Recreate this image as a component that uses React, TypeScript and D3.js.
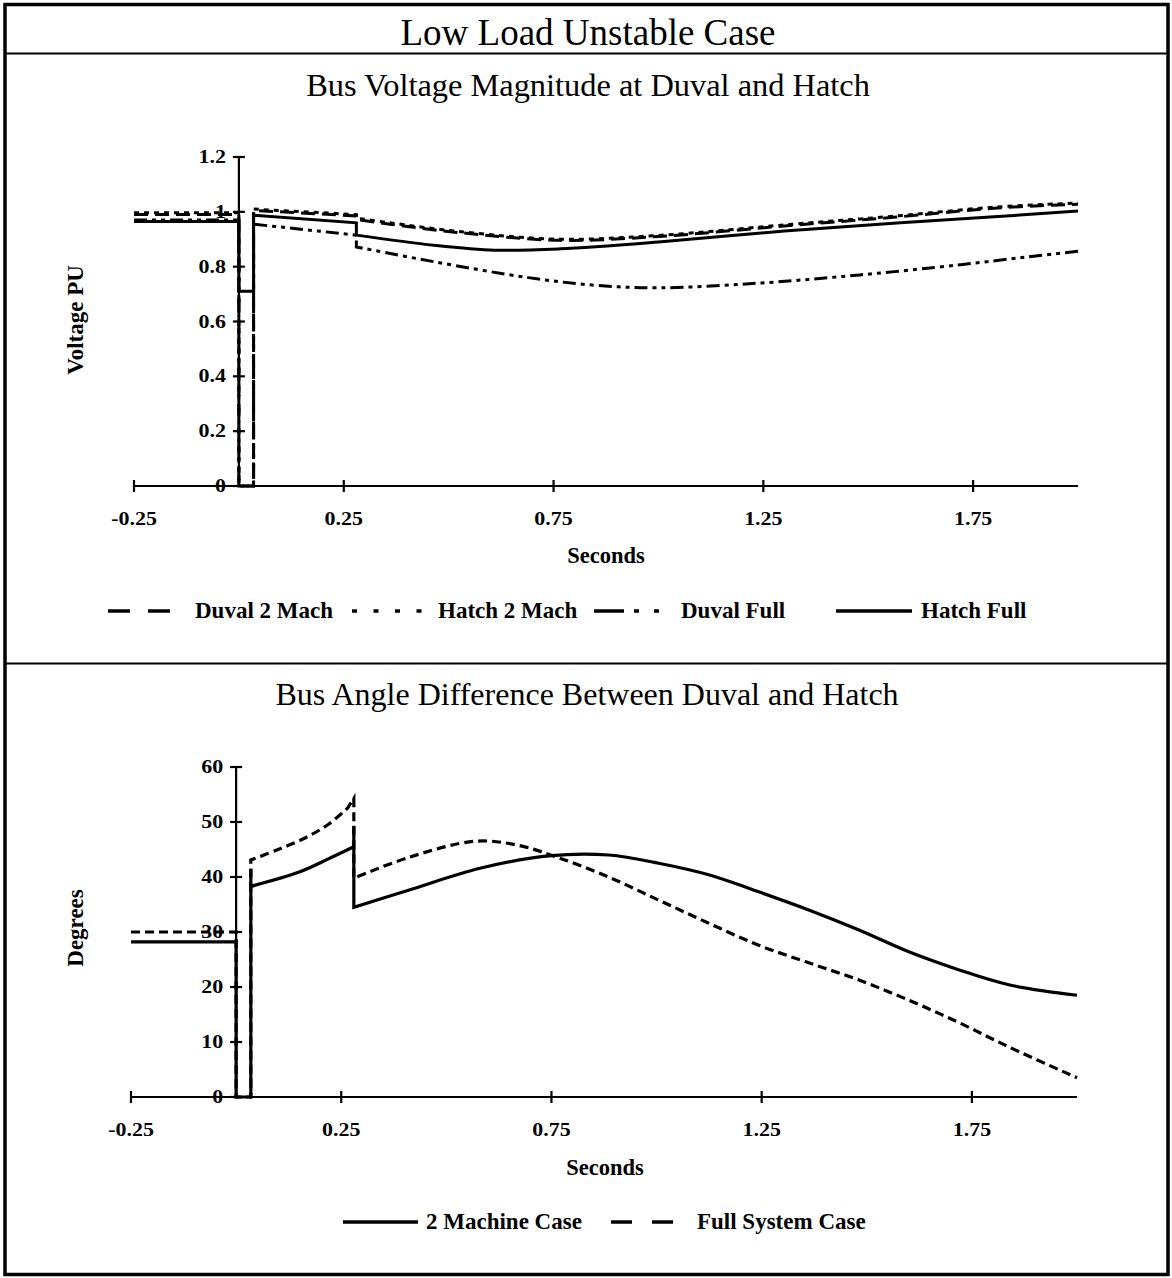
import React from 'react';
import * as d3 from 'd3';

type P = [number, number];
type Seg = { smooth: boolean; pts: P[] };

// ---------- Top panel: Bus Voltage Magnitude (PU) ----------
const duval2Mach: Seg[] = [
  { smooth: false, pts: [[-0.25, 0.99], [0, 0.99], [0, 0], [0.035, 0], [0.035, 1.005], [0.28, 0.985], [0.28, 0.972]] },
  { smooth: true, pts: [[0.28, 0.972], [0.36, 0.955], [0.52, 0.925], [0.765, 0.896], [1.0, 0.91], [1.32, 0.951], [1.56, 0.98], [1.8, 1.013], [2.0, 1.028]] },
];
const hatch2Mach: Seg[] = [
  { smooth: false, pts: [[-0.25, 0.997], [0, 0.997], [0, 0], [0.035, 0], [0.035, 1.01], [0.28, 0.99], [0.28, 0.977]] },
  { smooth: true, pts: [[0.28, 0.977], [0.36, 0.96], [0.52, 0.929], [0.765, 0.9], [1.0, 0.914], [1.32, 0.955], [1.56, 0.984], [1.8, 1.017], [2.0, 1.032]] },
];
const duvalFull: Seg[] = [
  { smooth: false, pts: [[-0.25, 0.97], [0, 0.97], [0, 0], [0.035, 0], [0.035, 0.955], [0.28, 0.915], [0.28, 0.872]] },
  { smooth: true, pts: [[0.28, 0.872], [0.465, 0.818], [0.69, 0.76], [0.85, 0.732], [1.0, 0.723], [1.24, 0.74], [1.48, 0.77], [1.72, 0.807], [1.88, 0.836], [2.0, 0.856]] },
];
const hatchFull: Seg[] = [
  { smooth: false, pts: [[-0.25, 0.965], [0, 0.965], [0, 0.71], [0.035, 0.71], [0.035, 0.988], [0.28, 0.96], [0.28, 0.915]] },
  { smooth: true, pts: [[0.28, 0.915], [0.465, 0.878], [0.61, 0.86], [0.765, 0.865], [1.0, 0.89], [1.3, 0.93], [1.56, 0.958], [1.8, 0.982], [2.0, 1.003]] },
];

// ---------- Bottom panel: Bus Angle Difference (degrees) ----------
const twoMachine: Seg[] = [
  { smooth: false, pts: [[-0.25, 28.2], [0, 28.2], [0, 0], [0.035, 0], [0.035, 41.5], [0.035, 38.3]] },
  { smooth: true, pts: [[0.035, 38.3], [0.15, 40.9], [0.225, 43.5], [0.28, 45.5]] },
  { smooth: false, pts: [[0.28, 45.5], [0.28, 49.3], [0.28, 34.5]] },
  { smooth: true, pts: [[0.28, 34.5], [0.41, 37.6], [0.58, 41.6], [0.75, 43.9], [0.886, 44.0], [1.005, 42.5], [1.124, 40.4], [1.243, 37.3], [1.362, 34.0], [1.48, 30.4], [1.6, 26.4], [1.72, 23.1], [1.838, 20.4], [2.0, 18.5]] },
];
const fullSystem: Seg[] = [
  { smooth: false, pts: [[-0.25, 30], [0, 30], [0, 0], [0.035, 0], [0.035, 43.1]] },
  { smooth: true, pts: [[0.035, 43.1], [0.1, 45.0], [0.164, 47.1], [0.22, 49.6], [0.265, 52.5]] },
  { smooth: false, pts: [[0.265, 52.5], [0.28, 54.3], [0.28, 39.8]] },
  { smooth: true, pts: [[0.28, 39.8], [0.412, 43.6], [0.569, 46.5], [0.669, 45.8], [0.767, 43.5], [0.886, 40.0], [1.005, 35.8], [1.124, 31.6], [1.243, 27.6], [1.362, 24.4], [1.48, 21.3], [1.6, 17.6], [1.72, 13.5], [1.838, 9.1], [2.0, 3.5]] },
];

const xTicks = [-0.25, 0.25, 0.75, 1.25, 1.75];
const xTickLabels = ['-0.25', '0.25', '0.75', '1.25', '1.75'];
const vTicks = [0, 0.2, 0.4, 0.6, 0.8, 1.0, 1.2];
const vTickLabels = ['0', '0.2', '0.4', '0.6', '0.8', '1', '1.2'];
const aTicks = [0, 10, 20, 30, 40, 50, 60];
const aTickLabels = ['0', '10', '20', '30', '40', '50', '60'];

const topLegend = ['Duval 2 Mach', 'Hatch 2 Mach', 'Duval Full', 'Hatch Full'];
const bottomLegend = ['2 Machine Case', 'Full System Case'];

const SERIF = '"Liberation Serif", "Times New Roman", serif';

function buildPath(segs: Seg[], x: (v: number) => number, y: (v: number) => number): string {
  let d = '';
  segs.forEach((s, i) => {
    const gen = d3
      .line<P>()
      .x((p) => x(p[0]))
      .y((p) => y(p[1]))
      .curve(s.smooth ? d3.curveCatmullRom.alpha(0.5) : d3.curveLinear);
    let part = gen(s.pts) || '';
    if (i > 0) part = 'L' + part.slice(1);
    d += part;
  });
  return d;
}

function TickText(props: { x: number; y: number; anchor: string; children: React.ReactNode }) {
  return (
    <text
      transform={`translate(${props.x},${props.y}) scale(1.22,1)`}
      textAnchor={props.anchor}
      fontFamily={SERIF}
      fontWeight="bold"
      fontSize={18}
    >
      {props.children}
    </text>
  );
}

function Axes(props: {
  x: d3.ScaleLinear<number, number>;
  y: d3.ScaleLinear<number, number>;
  yTicks: number[];
  yLabels: string[];
  x0: number;
}) {
  const { x, y, yTicks, yLabels, x0 } = props;
  const [xa, xb] = x.range();
  const y0 = y(0);
  const axX = x(x0);
  const [yBot, yTop] = y.range();
  return (
    <g>
      <line x1={xa} x2={xb} y1={y0} y2={y0} stroke="#000" strokeWidth={2.2} />
      {xTicks.map((t, i) => (
        <g key={'xt' + i}>
          <line x1={x(t)} x2={x(t)} y1={y0 - 6} y2={y0 + 6} stroke="#000" strokeWidth={2.2} />
          <TickText x={x(t)} y={y0 + 39} anchor="middle">
            {xTickLabels[i]}
          </TickText>
        </g>
      ))}
      <line x1={axX} x2={axX} y1={yBot} y2={yTop} stroke="#000" strokeWidth={2.2} />
      {yTicks.map((t, i) => (
        <g key={'yt' + i}>
          <line x1={axX - 6} x2={axX + 6} y1={y(t)} y2={y(t)} stroke="#000" strokeWidth={2.2} />
          <TickText x={axX - 13} y={y(t) + 6} anchor="end">
            {yLabels[i]}
          </TickText>
        </g>
      ))}
    </g>
  );
}

export default function App() {
  const W = 1172;
  const H = 1278;

  const xTop = d3.scaleLinear().domain([-0.25, 2.0]).range([134, 1078]);
  const yTop = d3.scaleLinear().domain([0, 1.2]).range([486, 157]);
  const xBot = d3.scaleLinear().domain([-0.25, 2.0]).range([131, 1077]);
  const yBot = d3.scaleLinear().domain([0, 60]).range([1097, 767]);

  const topSeries = [
    { segs: duval2Mach, dash: '14,7' },
    { segs: hatch2Mach, dash: '5,5' },
    { segs: duvalFull, dash: '13,5,4,5,4,5' },
    { segs: hatchFull, dash: undefined as string | undefined },
  ];
  const topLegendLayout = [
    { x1: 108, x2: 175, dash: '22,18', tx: 195 },
    { x1: 352, x2: 422, dash: '5,16.5', tx: 438 },
    { x1: 594, x2: 662, dash: '30,10,5,15,5,15', tx: 681 },
    { x1: 836, x2: 912, dash: undefined as string | undefined, tx: 921 },
  ];
  const legY1 = 611;
  const legY2 = 1222;

  return (
    <div style={{ position: 'absolute', left: 0, top: 0 }}>
      <svg width={W} height={H} viewBox={`0 0 ${W} ${H}`} style={{ display: 'block', background: '#fff' }}>
        <rect x={0} y={0} width={W} height={H} fill="#fff" />
        {/* frame */}
        <rect x={5} y={4.5} width={1163} height={1270} fill="none" stroke="#000" strokeWidth={3.5} />
        <line x1={5} x2={1168} y1={53.5} y2={53.5} stroke="#000" strokeWidth={2} />
        <line x1={5} x2={1168} y1={663.5} y2={663.5} stroke="#000" strokeWidth={2} />

        {/* titles */}
        <text x={588} y={45} textAnchor="middle" fontFamily={SERIF} fontSize={37}>
          Low Load Unstable Case
        </text>
        <text x={588} y={96} textAnchor="middle" fontFamily={SERIF} fontSize={32.4}>
          Bus Voltage Magnitude at Duval and Hatch
        </text>
        <text x={587} y={705} textAnchor="middle" fontFamily={SERIF} fontSize={32}>
          Bus Angle Difference Between Duval and Hatch
        </text>

        {/* top panel */}
        <Axes x={xTop} y={yTop} yTicks={vTicks} yLabels={vTickLabels} x0={0} />
        {topSeries.map((s, i) => (
          <path
            key={'ts' + i}
            d={buildPath(s.segs, xTop, yTop)}
            fill="none"
            stroke="#000"
            strokeWidth={3}
            strokeDasharray={s.dash}
            strokeLinejoin="miter"
          />
        ))}
        <text x={606} y={563} textAnchor="middle" fontFamily={SERIF} fontWeight="bold" fontSize={22.5}>
          Seconds
        </text>
        <text
          transform={`translate(83,320) rotate(-90)`}
          textAnchor="middle"
          fontFamily={SERIF}
          fontWeight="bold"
          fontSize={23}
        >
          Voltage PU
        </text>
        {topLegendLayout.map((l, i) => (
          <g key={'tl' + i}>
            <line x1={l.x1} x2={l.x2} y1={legY1} y2={legY1} stroke="#000" strokeWidth={3.5} strokeDasharray={l.dash} />
            <text x={l.tx} y={legY1 + 7} fontFamily={SERIF} fontWeight="bold" fontSize={23}>
              {topLegend[i]}
            </text>
          </g>
        ))}

        {/* bottom panel */}
        <Axes x={xBot} y={yBot} yTicks={aTicks} yLabels={aTickLabels} x0={0} />
        <path d={buildPath(twoMachine, xBot, yBot)} fill="none" stroke="#000" strokeWidth={3.2} />
        <path d={buildPath(fullSystem, xBot, yBot)} fill="none" stroke="#000" strokeWidth={3.2} strokeDasharray="9,5" />
        <text x={605} y={1175} textAnchor="middle" fontFamily={SERIF} fontWeight="bold" fontSize={22.5}>
          Seconds
        </text>
        <text
          transform={`translate(83,928) rotate(-90)`}
          textAnchor="middle"
          fontFamily={SERIF}
          fontWeight="bold"
          fontSize={23}
        >
          Degrees
        </text>
        <line x1={343} x2={418} y1={legY2} y2={legY2} stroke="#000" strokeWidth={3.5} />
        <text x={426} y={legY2 + 7} fontFamily={SERIF} fontWeight="bold" fontSize={23}>
          {bottomLegend[0]}
        </text>
        <line x1={611} x2={673} y1={legY2} y2={legY2} stroke="#000" strokeWidth={3.5} strokeDasharray="21,20" />
        <text x={697} y={legY2 + 7} fontFamily={SERIF} fontWeight="bold" fontSize={23}>
          {bottomLegend[1]}
        </text>
      </svg>
    </div>
  );
}
